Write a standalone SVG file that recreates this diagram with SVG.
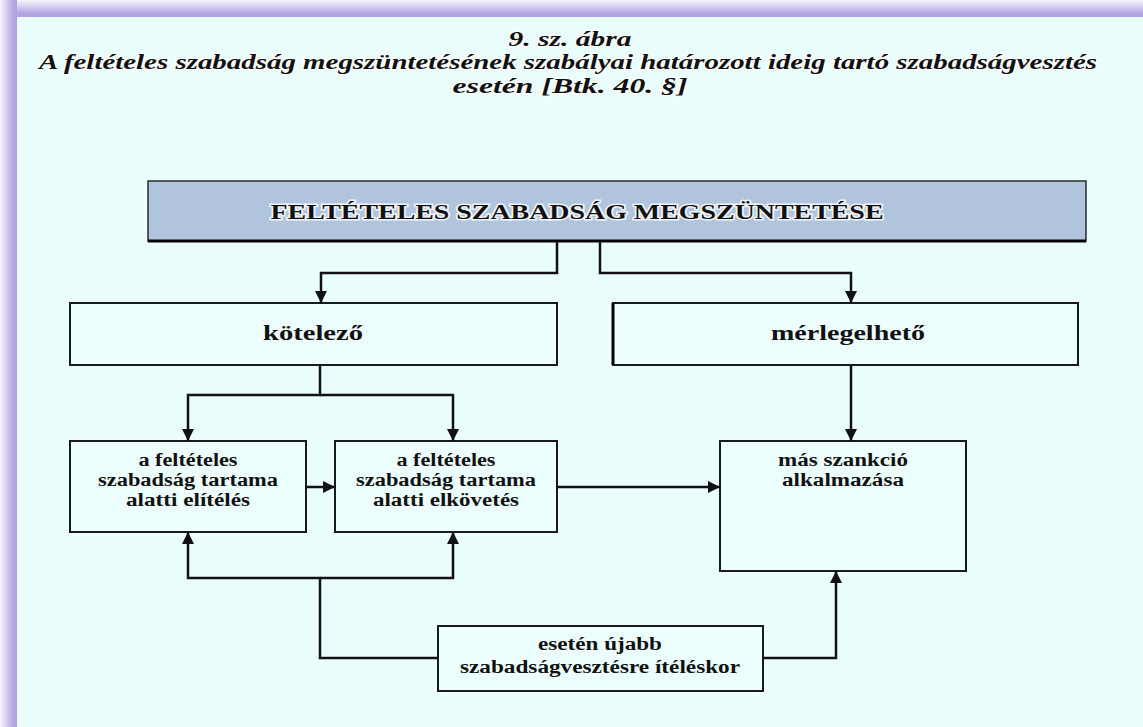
<svg xmlns="http://www.w3.org/2000/svg" width="1143" height="727" viewBox="0 0 1143 727">
<defs>
<linearGradient id="gTop" x1="0" y1="0" x2="0" y2="1">
<stop offset="0" stop-color="#F6F4FC"/><stop offset="0.75" stop-color="#B6A9E2"/><stop offset="1" stop-color="#B0A2DF"/>
</linearGradient>
<linearGradient id="gLeft" x1="0" y1="0" x2="1" y2="0">
<stop offset="0" stop-color="#F6F4FC"/><stop offset="0.75" stop-color="#B6A9E2"/><stop offset="1" stop-color="#B0A2DF"/>
</linearGradient>
<marker id="ah" viewBox="0 0 10 10" refX="10" refY="5" markerWidth="12" markerHeight="12" markerUnits="userSpaceOnUse" orient="auto">
<path d="M0,0 L10,5 L0,10 z" fill="#111"/>
</marker>
<style>
.title{font-family:"Liberation Serif",serif;font-weight:bold;font-style:italic;font-size:21px;fill:#111;text-anchor:middle;stroke:#fff;stroke-width:2.5px;paint-order:stroke;stroke-opacity:0.8}
.hdr{font-family:"Liberation Serif",serif;font-weight:bold;font-size:22px;fill:#111;text-anchor:middle;stroke:#fff;stroke-width:3px;paint-order:stroke;stroke-opacity:0.8}
.lbl{font-family:"Liberation Serif",serif;font-weight:bold;font-size:22px;fill:#111;text-anchor:middle}
.sm{font-family:"Liberation Serif",serif;font-weight:bold;font-size:18px;fill:#111;text-anchor:middle}
.box{fill:#EDFEFE;stroke:#1a1a1a;stroke-width:2}
.con{fill:none;stroke:#111;stroke-width:2.5}
</style>
</defs>
<rect x="0" y="0" width="1143" height="727" fill="#EAFEFE"/>
<rect x="0" y="0" width="1143" height="17" fill="url(#gTop)"/>
<rect x="0" y="0" width="17" height="727" fill="url(#gLeft)"/>

<g id="title">
<text class="title" x="570" y="46" textLength="123" lengthAdjust="spacingAndGlyphs">9. sz. ábra</text>
<text class="title" x="568" y="69" textLength="1058" lengthAdjust="spacingAndGlyphs">A feltételes szabadság megszüntetésének szabályai határozott ideig tartó szabadságvesztés</text>
<text class="title" x="570" y="93" textLength="235" lengthAdjust="spacingAndGlyphs">esetén [Btk. 40. §]</text>
</g>

<g id="header">
<rect x="148" y="181" width="938" height="60" fill="#B0C4DE" stroke="#2a2a2a" stroke-width="1.5"/>
<line x1="148" y1="241" x2="1086" y2="241" stroke="#000" stroke-width="3"/>
<text class="hdr" x="577" y="219" textLength="613" lengthAdjust="spacingAndGlyphs">FELTÉTELES SZABADSÁG MEGSZÜNTETÉSE</text>
</g>

<g id="kotelezo">
<rect class="box" x="70" y="303" width="487" height="62"/>
<text class="lbl" x="313" y="340" textLength="100" lengthAdjust="spacingAndGlyphs">kötelező</text>
</g>

<g id="merlegelheto">
<rect class="box" x="613" y="303" width="465" height="62"/>
<line x1="613" y1="303" x2="613" y2="365" stroke="#000" stroke-width="3"/>
<text class="lbl" x="848" y="340" textLength="154" lengthAdjust="spacingAndGlyphs">mérlegelhető</text>
</g>

<g id="elitelés">
<rect class="box" x="70" y="441" width="236" height="91"/>
<text class="sm" x="188" y="466" textLength="99" lengthAdjust="spacingAndGlyphs">a feltételes</text>
<text class="sm" x="188" y="486" textLength="180" lengthAdjust="spacingAndGlyphs">szabadság tartama</text>
<text class="sm" x="188" y="506" textLength="124" lengthAdjust="spacingAndGlyphs">alatti elítélés</text>
</g>

<g id="elkovetes">
<rect class="box" x="335" y="441" width="222" height="91"/>
<text class="sm" x="446" y="466" textLength="99" lengthAdjust="spacingAndGlyphs">a feltételes</text>
<text class="sm" x="446" y="486" textLength="180" lengthAdjust="spacingAndGlyphs">szabadság tartama</text>
<text class="sm" x="446" y="506" textLength="146" lengthAdjust="spacingAndGlyphs">alatti elkövetés</text>
</g>

<g id="szankcio">
<rect class="box" x="720" y="441" width="246" height="130"/>
<text class="sm" x="843" y="466" textLength="130" lengthAdjust="spacingAndGlyphs">más szankció</text>
<text class="sm" x="843" y="486" textLength="122" lengthAdjust="spacingAndGlyphs">alkalmazása</text>
</g>

<g id="ujabb">
<rect class="box" x="438" y="626" width="325" height="65"/>
<text class="sm" x="600" y="650" textLength="124" lengthAdjust="spacingAndGlyphs">esetén újabb</text>
<text class="sm" x="600" y="673" textLength="280" lengthAdjust="spacingAndGlyphs">szabadságvesztésre ítéléskor</text>
</g>

<g id="connectors">
<path class="con" d="M557,242 V273 H321 V303" marker-end="url(#ah)"/>
<path class="con" d="M600,242 V273 H851 V303" marker-end="url(#ah)"/>
<path class="con" d="M320,365 V395 H188 V441" marker-end="url(#ah)"/>
<path class="con" d="M320,395 H453 V441" marker-end="url(#ah)"/>
<path class="con" d="M851,365 V441" marker-end="url(#ah)"/>
<path class="con" d="M306,487 H335" marker-end="url(#ah)"/>
<path class="con" d="M557,487 H720" marker-end="url(#ah)"/>
<path class="con" d="M438,658 H320 V578 H188 V532" marker-end="url(#ah)"/>
<path class="con" d="M320,578 H453 V532" marker-end="url(#ah)"/>
<path class="con" d="M763,658 H836 V571" marker-end="url(#ah)"/>
</g>
</svg>
